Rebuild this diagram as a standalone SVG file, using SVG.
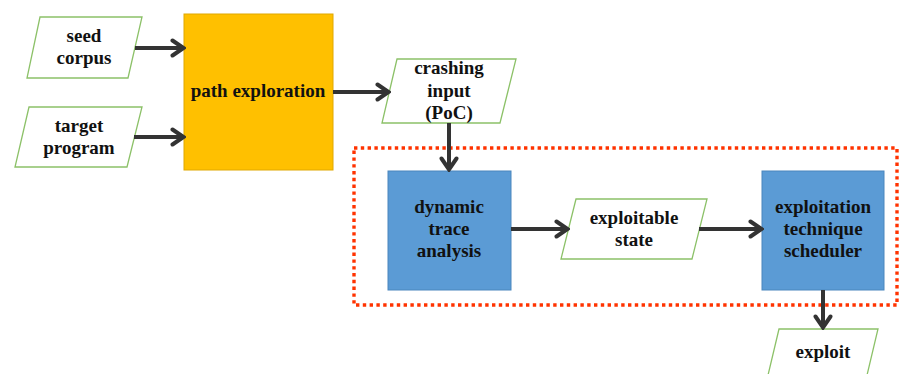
<svg xmlns="http://www.w3.org/2000/svg" width="900" height="374" viewBox="0 0 900 374">
<defs>
<marker id="arr" viewBox="0 0 16 20" refX="14" refY="10" markerWidth="16" markerHeight="20" markerUnits="userSpaceOnUse" orient="auto">
<path d="M2.5,2.5 L13.5,10 L2.5,17.5" fill="none" stroke="#333333" stroke-width="4" stroke-linecap="round" stroke-linejoin="miter"/>
</marker>
</defs>
<style>
text{font-family:"Liberation Serif","Times New Roman",serif;font-weight:bold;font-size:19px;fill:#111111;text-anchor:middle}
.io{fill:#ffffff;stroke:#8cc168;stroke-width:1.3}
.proc{fill:#ffc000;stroke:#e0a800;stroke-width:1}
.blue{fill:#5b9bd5;stroke:#4a86bd;stroke-width:1}
.conn{fill:none;stroke:#333333;stroke-width:4;marker-end:url(#arr)}
.region{fill:none;stroke:#ff3300;stroke-width:3.4;stroke-dasharray:3.4 3.4}
</style>
<rect class="region" x="354" y="148" width="543" height="157"/>
<g id="seed-corpus">
<polygon class="io" points="40,17 142,17 128,78 27,78"/>
<text x="84" y="42">seed</text>
<text x="84" y="64">corpus</text>
</g>
<g id="target-program">
<polygon class="io" points="29,107 142,107 127,167 15,167"/>
<text x="79" y="132">target</text>
<text x="79" y="154">program</text>
</g>
<g id="path-exploration">
<rect class="proc" x="184" y="14" width="149" height="156"/>
<text x="258" y="97">path exploration</text>
</g>
<g id="crashing-input">
<polygon class="io" points="397,59 516,59 500,123 382,123"/>
<text x="449" y="74">crashing</text>
<text x="449" y="97">input</text>
<text x="449" y="119">(PoC)</text>
</g>
<g id="dynamic-trace-analysis">
<rect class="blue" x="388" y="171" width="123" height="119"/>
<text x="449" y="213">dynamic</text>
<text x="449" y="235">trace</text>
<text x="449" y="257">analysis</text>
</g>
<g id="exploitable-state">
<polygon class="io" points="576,199 707,199 692,259 561,259"/>
<text x="634" y="224">exploitable</text>
<text x="634" y="246">state</text>
</g>
<g id="exploitation-technique-scheduler">
<rect class="blue" x="762" y="171" width="122" height="119"/>
<text x="823" y="213">exploitation</text>
<text x="823" y="235">technique</text>
<text x="823" y="257">scheduler</text>
</g>
<g id="exploit">
<polygon class="io" points="779,329 878,329 863,392 764,392"/>
<text x="823" y="358">exploit</text>
</g>
<g id="connectors">
<path class="conn" d="M135,48 L184,48"/>
<path class="conn" d="M134,137 L184,137"/>
<path class="conn" d="M333,92 L389,92"/>
<path class="conn" d="M449,123 L449,170"/>
<path class="conn" d="M511,229 L568,229"/>
<path class="conn" d="M699,229 L762,229"/>
<path class="conn" d="M823,290 L823,328"/>
</g>
</svg>
